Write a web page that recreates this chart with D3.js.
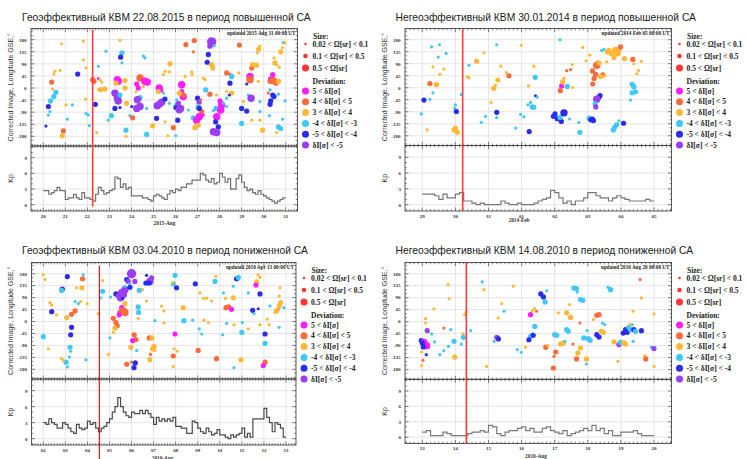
<!DOCTYPE html>
<html><head><meta charset="utf-8">
<script src="https://cdn.jsdelivr.net/npm/d3@7"></script>
<style>body{margin:0;background:#fff;} svg{display:block;}</style>
</head><body>
<svg id="chart" width="748" height="459"></svg>
<script>
// ---- data ---------------------------------------------------------------
const titles = [
  "Геоэффективный КВМ 22.08.2015 в период повышенной СА",
  "Негеоэффективный КВМ 30.01.2014 в период повышенной СА",
  "Геоэффективный КВМ 03.04.2010 в период пониженной СА",
  "Негеоэффективный КВМ 14.08.2010 в период пониженной СА"
];
const updatedLabels = [
  "updated 2015 Aug 31 00:00 UT", "updated 2014 Feb 05 00:00 UT",
  "updated 2010 Apr 13 00:00 UT", "updated 2010 Aug 20 00:00 UT"
];
const monthLabels = ["2015-Aug", "2014-Feb", "2010-Apr", "2010-Aug"];
const startDates = ["2015-08-20", "2014-01-29", "2010-04-02", "2010-08-13"];
const spanDays = [11, 7, 11, 7];
// arrival marker, days after the first tick
const cmeArrival = [2.24, 1.22, 2.54, 1.33];

const lonTicks = [180, 135, 90, 45, 0, -45, -90, -135, -180];
const kpTicks = [0, 3, 6, 9];
const sizeLabels = ["0.02 < Ω[sr] < 0.1", "0.1 < Ω[sr] < 0.5", "0.5 < Ω[sr]"];
const devCodes = ["M", "O", "Y", "L", "B", "P"];
const devLabels = ["5 < δI[σ]", "4 < δI[σ] < 5", "3 < δI[σ] < 4", "-4 < δI[σ] < -3", "-5 < δI[σ] < -4", "δI[σ] < -5"];

// Kp, 3-hour values
const kp1 = [
  2.7,2.7,2.0,2.3,2.7,3.3,2.7,2.7, 1.0,1.3,1.3,2.0,1.3,1.0,2.3,1.3,
  1.3,1.0,0.7,2.0,3.3,2.7,2.0,2.3, 2.7,3.0,5.3,5.0,3.3,4.0,3.0,3.3,
  1.7,1.7,1.7,1.7,1.3,1.3,1.0,0.7, 1.7,2.0,1.7,1.3,1.0,2.0,2.7,2.3,
  3.0,2.7,3.3,3.3,4.0,4.0,4.7,4.7, 4.7,6.0,5.7,4.7,4.3,5.0,4.0,4.3,
  6.0,5.3,4.3,5.0,3.0,3.0,5.0,5.7, 4.3,3.3,2.7,3.0,2.3,2.0,2.7,2.0,
  1.7,1.3,1.0,0.7,0.3,0.7,1.0,1.3
];
const kp2 = [
  2.0,2.0,2.0,1.7,1.0,2.0,1.3,1.3, 2.0,2.3,0.7,0.7,0.3,0.0,0.3,0.0,
  0.0,0.0,0.0,0.7,0.3,0.0,0.0,0.3, 0.0,0.0,0.0,0.3,0.7,1.0,1.3,2.7,
  2.3,1.3,0.3,0.7,0.0,0.7,0.7,1.3, 2.3,2.3,1.7,1.3,1.3,0.7,1.3,1.7,
  1.3,1.0,0.7,0.7,0.7,0.7,1.0,0.7
];
const kp3 = [
  3.0,2.7,3.7,3.0,2.7,2.0,2.0,3.0, 2.7,2.0,1.3,1.0,2.7,2.0,1.7,2.0,
  3.3,2.7,3.0,2.0,1.3,2.0,2.3,3.0, 3.7,5.0,6.0,7.7,6.0,5.0,4.3,4.0,
  5.0,4.7,4.7,5.3,4.7,5.3,4.7,4.0, 2.7,4.0,3.3,3.7,3.3,3.7,3.3,4.0,
  2.3,2.3,2.0,2.0,1.0,1.0,3.3,3.0, 2.0,1.3,1.0,2.0,1.3,0.7,1.0,1.7,
  0.7,0.7,0.3,0.0,0.7,0.3,0.7,1.0, 2.0,0.3,1.0,0.3,3.7,3.7,3.7,3.7,
  5.7,4.0,3.0,1.3,3.0,2.7,2.0,0.3
];
const kp4 = [
  1.0,1.3,0.3,0.3,0.3,1.0,0.7,0.3, 0.3,0.3,0.3,0.7,1.0,1.0,1.3,1.0,
  2.3,2.0,0.7,0.3,1.0,1.3,1.3,1.7, 2.0,1.3,1.7,1.0,1.0,1.7,2.0,1.3,
  1.0,0.7,1.3,0.3,0.7,1.0,1.3,1.7, 1.3,2.3,1.3,1.7,0.7,1.3,0.3,0.3,
  1.0,1.0,1.0,1.3,0.7,0.3,0.3,0.3
];

// events: [days after first tick, longitude, size class (Ω), deviation class]
const ev1 = [
  [0.83,165,1,"Y"],[1.82,175,1,"Y"],[0.53,62,1,"Y"],[0.48,52,1,"Y"],[0.76,66,1,"Y"],
  [0.38,22,2,"O"],[0.42,-4,1,"Y"],[0.57,-16,2,"L"],[0.48,-32,2,"L"],[0.33,-48,2,"L"],
  [0.23,-69,2,"B"],[0.30,-88,1,"L"],[0.23,-101,1,"L"],[0.12,-142,1,"B"],[0.91,-160,2,"O"],
  [0.86,-178,2,"Y"],[1.09,-116,1,"L"],[1.32,-63,1,"L"],[1.03,-63,1,"Y"],[1.56,52,2,"B"],
  [2.09,-140,1,"L"],[1.94,-95,1,"L"],[1.82,105,1,"Y"],[1.94,75,1,"Y"],[1.92,-41,1,"Y"],
  [2.04,-101,1,"L"],[2.30,25,2,"O"],[2.24,31,2,"O"],[2.50,35,1,"M"],[2.57,31,1,"Y"],
  [2.65,22,1,"Y"],[2.50,81,1,"L"],[2.50,-6,1,"Y"],[2.60,-6,2,"Y"],[2.80,-4,2,"Y"],
  [2.36,-61,2,"B"],[2.42,-166,1,"Y"],[3.48,178,1,"Y"],[3.57,131,2,"L"],[3.51,115,2,"B"],
  [3.57,94,1,"L"],[2.84,137,1,"L"],[3.36,31,3,"M"],[3.40,25,3,"M"],[3.30,18,2,"Y"],
  [3.71,28,2,"Y"],[3.71,0,2,"Y"],[3.25,-19,3,"P"],[3.36,-38,3,"P"],[3.40,-48,3,"P"],
  [3.48,-26,2,"L"],[3.25,-76,2,"B"],[3.09,-103,2,"L"],[2.95,-120,1,"L"],[3.78,-57,2,"Y"],
  [3.48,-73,1,"B"],[3.75,-157,2,"L"],[3.93,-103,1,"L"],[4.05,-111,2,"O"],[3.75,-180,1,"Y"],
  [4.54,119,1,"L"],[4.61,112,1,"L"],[4.39,37,3,"O"],[4.61,25,3,"M"],[4.72,22,3,"M"],
  [4.24,15,2,"M"],[4.31,0,2,"M"],[4.54,6,1,"Y"],[4.21,-13,1,"Y"],[4.39,-36,2,"L"],
  [4.27,-44,3,"P"],[4.24,-76,3,"P"],[4.39,-69,3,"P"],[4.01,-69,1,"B"],[4.69,-76,1,"L"],
  [5.14,-113,2,"B"],[4.96,-141,2,"Y"],[4.69,-173,2,"L"],[5.52,-126,1,"Y"],[5.26,0,3,"M"],
  [5.33,-8,2,"M"],[5.22,-13,2,"Y"],[5.45,-19,1,"L"],[5.26,-61,3,"P"],[5.37,-53,3,"P"],
  [5.17,-66,3,"P"],[5.52,-41,2,"B"],[5.72,-57,1,"L"],[5.75,90,2,"Y"],[5.52,62,1,"Y"],
  [5.72,60,1,"Y"],[5.45,50,1,"Y"],[5.66,-178,1,"Y"],[5.90,-148,2,"O"],[6.01,-178,1,"L"],
  [6.28,12,3,"M"],[6.28,-13,2,"M"],[6.35,-32,3,"M"],[6.35,-26,2,"O"],[6.17,-19,2,"Y"],
  [6.05,-44,1,"L"],[6.05,-63,2,"L"],[6.02,-73,2,"B"],[6.23,-76,3,"P"],[6.17,-81,3,"P"],
  [6.13,-57,2,"P"],[6.10,-120,2,"B"],[6.43,43,1,"Y"],[6.73,60,1,"Y"],[6.76,50,1,"Y"],
  [6.58,-82,1,"L"],[6.81,-111,2,"L"],[6.96,-76,1,"Y"],[7.00,-38,2,"B"],[7.07,-53,2,"P"],
  [7.03,-69,2,"L"],[6.47,162,2,"O"],[6.85,177,2,"O"],[6.81,135,1,"O"],[7.26,37,1,"Y"],
  [7.34,31,1,"Y"],[7.37,-7,2,"L"],[7.56,-23,2,"O"],[7.14,-44,1,"O"],[7.19,-88,2,"O"],
  [7.26,-101,1,"M"],[7.08,-76,2,"B"],[6.96,-120,3,"M"],[7.08,-107,3,"M"],[7.03,-138,2,"Y"],
  [6.88,-148,2,"Y"],[7.72,-84,1,"L"],[7.64,172,4,"P"],[7.56,156,2,"P"],[7.75,157,1,"L"],
  [7.49,125,2,"B"],[7.44,96,2,"B"],[7.64,87,2,"Y"],[7.69,75,2,"Y"],[7.87,-26,1,"Y"],
  [7.84,-76,2,"L"],[8.02,-48,2,"M"],[8.09,-63,3,"M"],[8.05,-82,3,"M"],[7.87,-107,3,"M"],
  [7.82,-126,2,"B"],[7.94,-145,2,"B"],[7.72,-163,3,"P"],[7.87,-166,3,"P"],[8.17,-57,1,"L"],
  [8.32,56,2,"O"],[8.47,52,1,"O"],[8.55,43,2,"L"],[8.47,18,2,"B"],[8.32,-13,1,"Y"],
  [8.55,-19,2,"Y"],[8.44,-26,1,"B"],[8.32,-38,1,"L"],[8.32,-69,1,"L"],[8.90,160,2,"O"],
  [8.87,56,1,"Y"],[9.08,-51,1,"Y"],[9.00,-76,2,"B"],[9.23,-86,2,"B"],[9.30,-26,1,"L"],
  [9.43,-38,3,"P"],[9.23,15,1,"B"],[9.38,43,3,"M"],[9.38,31,3,"O"],[9.46,75,2,"O"],
  [9.50,87,2,"Y"],[9.68,85,2,"Y"],[9.76,25,1,"Y"],[9.46,-120,1,"Y"],[9.83,-120,1,"Y"],
  [9.95,-157,2,"Y"],[9.83,-51,1,"L"],[9.77,144,2,"Y"],[9.83,156,1,"Y"],[9.71,131,1,"Y"],
  [9.00,-132,2,"L"],[10.41,50,2,"M"],[10.36,31,3,"M"],[10.44,27,3,"O"],[10.29,25,2,"O"],
  [10.56,18,2,"O"],[10.67,25,2,"Y"],[10.51,94,2,"Y"],[10.59,87,1,"Y"],[10.71,77,1,"Y"],
  [10.47,112,1,"Y"],[10.77,135,2,"Y"],[10.85,150,1,"Y"],[10.89,169,1,"L"],[10.97,169,1,"Y"],
  [10.29,-7,1,"L"],[10.21,-19,1,"O"],[10.41,-26,2,"B"],[10.47,-32,2,"B"],[10.32,-48,2,"B"],
  [10.67,-23,1,"L"],[10.29,-61,2,"B"],[10.26,-103,1,"L"],[9.83,-88,1,"L"],[10.97,-48,1,"L"],
  [10.86,-116,1,"L"],[10.67,-145,2,"L"],[10.77,-151,2,"L"],[10.59,-166,1,"Y"]
];
const ev2 = [
  [0.28,153,1,"L"],[0.52,161,1,"L"],[0.48,115,1,"L"],[0.72,129,1,"L"],[0.32,78,1,"Y"],
  [0.65,70,1,"Y"],[0.53,50,1,"Y"],[0.23,16,2,"O"],[0.43,12,2,"Y"],[0.32,-19,1,"L"],
  [0.05,-46,2,"B"],[0.23,-43,1,"L"],[-0.03,-98,1,"L"],[0.15,-158,1,"Y"],[1.00,-64,1,"L"],
  [0.98,-77,1,"L"],[1.03,-89,2,"B"],[1.00,-151,2,"Y"],[0.96,-158,2,"Y"],[1.06,-167,2,"Y"],
  [1.18,-25,1,"L"],[1.41,84,1,"L"],[1.36,41,1,"Y"],[1.41,37,1,"Y"],[1.64,99,2,"Y"],
  [1.86,131,1,"Y"],[1.91,-107,1,"L"],[1.78,-130,1,"L"],[2.25,161,1,"L"],[2.25,-92,2,"B"],
  [2.25,-112,1,"L"],[2.08,-55,1,"Y"],[2.16,-2,2,"Y"],[2.28,29,2,"Y"],[2.21,10,1,"Y"],
  [2.37,81,1,"Y"],[2.54,57,1,"Y"],[2.62,45,2,"O"],[2.99,159,1,"Y"],[2.82,-151,1,"L"],
  [2.97,-100,1,"L"],[3.07,-109,1,"L"],[3.23,-164,2,"B"],[3.21,7,1,"Y"],[3.41,39,2,"L"],
  [3.37,81,1,"Y"],[3.42,-30,1,"B"],[3.47,-35,1,"L"],[3.27,-55,1,"L"],[3.19,-64,1,"L"],
  [3.32,-72,2,"L"],[3.37,-73,2,"L"],[4.16,180,1,"L"],[3.96,-107,2,"B"],[4.01,-98,2,"B"],
  [4.08,-116,2,"B"],[4.20,-126,2,"B"],[4.16,-111,2,"L"],[4.28,-94,3,"B"],[4.45,-117,1,"L"],
  [4.73,-130,1,"L"],[4.76,-167,2,"L"],[4.21,7,2,"M"],[4.24,22,2,"Y"],[4.28,35,1,"Y"],
  [4.17,-11,2,"O"],[4.38,5,2,"L"],[4.54,1,1,"Y"],[4.36,64,1,"O"],[4.48,68,1,"O"],
  [4.53,87,1,"Y"],[4.85,151,1,"Y"],[4.95,101,1,"Y"],[5.06,122,1,"Y"],[5.27,84,3,"O"],
  [5.31,92,2,"O"],[5.34,93,2,"Y"],[5.14,63,2,"O"],[5.24,50,2,"O"],[5.19,35,2,"O"],
  [5.15,14,2,"O"],[5.45,48,2,"O"],[5.39,42,2,"Y"],[5.52,45,1,"Y"],[5.57,97,1,"Y"],
  [5.42,140,1,"L"],[5.49,144,1,"L"],[5.59,134,2,"Y"],[5.64,140,2,"Y"],[5.71,128,2,"Y"],
  [5.79,113,2,"Y"],[5.84,140,3,"Y"],[5.89,131,3,"Y"],[5.94,144,2,"Y"],[5.99,153,2,"O"],
  [6.11,109,2,"Y"],[6.36,106,2,"O"],[6.39,90,1,"Y"],[6.62,99,1,"Y"],[6.53,65,1,"Y"],
  [6.48,52,1,"Y"],[6.34,13,2,"L"],[6.39,4,2,"L"],[6.44,-15,2,"L"],[6.34,-19,2,"L"],
  [6.29,-46,1,"L"],[5.37,-29,2,"B"],[5.34,-35,2,"B"],[5.27,-43,3,"P"],[5.22,-60,2,"L"],
  [5.24,-72,2,"P"],[5.04,-114,2,"L"],[5.09,-120,2,"B"],[5.14,-117,2,"B"],[5.17,-123,2,"B"],
  [5.77,-158,2,"L"],[5.81,-148,2,"L"],[5.87,-139,2,"L"],[5.94,-124,1,"L"],[6.08,-133,2,"B"]
];
const ev3 = [
  [0.00,176,1,"Y"],[0.08,158,1,"Y"],[1.09,169,2,"B"],[1.78,161,2,"O"],[1.81,176,1,"L"],
  [0.86,122,2,"B"],[0.83,117,2,"L"],[1.51,127,1,"Y"],[1.75,127,2,"Y"],[0.30,71,1,"Y"],
  [0.38,62,1,"Y"],[0.38,37,2,"B"],[0.60,25,1,"Y"],[1.06,15,2,"Y"],[1.28,27,2,"O"],
  [1.44,40,2,"O"],[1.44,75,1,"L"],[1.59,67,1,"L"],[1.69,75,1,"Y"],[1.99,67,1,"Y"],
  [1.28,-22,2,"B"],[1.24,-50,2,"B"],[0.00,-57,2,"L"],[0.23,-103,1,"Y"],[1.21,-97,2,"L"],
  [1.24,-112,1,"L"],[1.18,-134,1,"L"],[1.03,-153,2,"L"],[1.09,-171,1,"L"],[0.91,-146,1,"Y"],
  [0.83,-140,1,"Y"],[1.93,-144,1,"L"],[2.69,154,1,"Y"],[2.49,30,1,"Y"],[2.69,114,2,"L"],
  [2.60,89,1,"L"],[3.05,92,1,"L"],[3.02,-62,1,"L"],[2.95,-124,1,"Y"],[3.29,104,2,"B"],
  [3.40,96,2,"P"],[3.55,108,3,"P"],[3.63,102,3,"P"],[3.70,120,3,"P"],[3.50,89,3,"P"],
  [3.78,158,2,"B"],[3.85,151,2,"P"],[4.00,180,4,"P"],[4.15,151,2,"P"],[4.68,174,1,"B"],
  [4.83,151,3,"P"],[4.91,164,2,"P"],[4.65,145,2,"B"],[4.80,145,2,"B"],[3.90,142,1,"L"],
  [3.70,133,1,"L"],[3.93,129,2,"B"],[3.60,87,1,"B"],[3.70,67,2,"Y"],[3.55,52,2,"M"],
  [3.63,40,3,"O"],[3.70,34,3,"O"],[3.47,34,2,"O"],[3.44,25,2,"M"],[3.17,12,2,"O"],
  [3.29,-4,2,"O"],[3.35,-16,2,"O"],[3.25,-25,2,"Y"],[3.17,-41,1,"Y"],[4.30,55,2,"L"],
  [4.32,34,2,"L"],[4.30,12,1,"Y"],[4.35,117,2,"L"],[4.50,120,1,"Y"],[4.12,-50,2,"O"],
  [4.20,-68,2,"O"],[4.05,-72,2,"M"],[3.97,-97,2,"Y"],[4.23,-109,1,"L"],[4.80,-62,2,"O"],
  [4.92,-62,2,"Y"],[5.02,-94,2,"Y"],[4.95,-103,2,"Y"],[5.06,-109,1,"Y"],[4.83,-144,2,"Y"],
  [4.86,-124,1,"O"],[3.78,-161,2,"O"],[4.00,-153,1,"O"],[4.11,-174,2,"B"],[4.17,-156,2,"B"],
  [4.68,77,1,"Y"],[5.36,58,1,"Y"],[5.47,40,1,"Y"],[5.06,3,1,"L"],[5.47,-6,1,"Y"],
  [5.97,174,2,"L"],[5.89,142,2,"L"],[6.04,127,2,"B"],[5.86,145,1,"Y"],[6.34,52,2,"Y"],
  [6.37,3,2,"L"],[6.77,5,1,"L"],[6.89,142,2,"B"],[5.97,-47,2,"M"],[5.89,-130,2,"O"],
  [5.92,-103,1,"Y"],[6.07,-112,1,"Y"],[5.89,-169,1,"Y"],[7.02,-109,2,"O"],[7.18,-47,1,"L"],
  [7.28,5,1,"Y"],[7.48,-4,1,"Y"],[7.10,108,1,"Y"],[7.25,87,1,"Y"],[7.40,87,1,"Y"],
  [7.63,77,1,"Y"],[7.07,-28,1,"L"],[7.78,151,2,"L"],[7.82,170,1,"Y"],[7.85,-140,2,"O"],
  [8.16,108,1,"L"],[8.31,-7,1,"L"],[8.13,-50,1,"L"],[8.26,87,1,"Y"],[8.28,52,2,"O"],
  [8.40,55,2,"O"],[8.53,46,2,"M"],[8.61,89,2,"Y"],[8.61,133,1,"L"],[8.64,-12,1,"Y"],
  [8.76,161,2,"B"],[8.84,166,2,"L"],[8.64,-174,1,"L"],[8.96,-144,2,"Y"],[9.00,-41,2,"L"],
  [9.02,-4,1,"L"],[9.29,108,1,"L"],[9.29,-28,1,"Y"],[9.67,149,2,"Y"],[9.64,137,2,"M"],
  [9.74,176,1,"Y"],[9.82,166,1,"Y"],[9.82,104,2,"B"],[9.49,42,2,"B"],[9.55,30,1,"L"],
  [9.74,48,1,"B"],[9.82,-12,1,"Y"],[10.05,-47,2,"B"],[10.05,-82,2,"L"],[10.15,9,1,"Y"],
  [10.24,-12,1,"Y"],[10.27,58,1,"L"],[10.05,-153,2,"O"],[9.97,-166,2,"M"],[10.65,46,1,"O"],
  [10.57,40,2,"Y"],[10.69,58,2,"Y"],[10.76,71,2,"Y"],[10.50,34,1,"Y"],[10.69,96,1,"Y"],
  [10.73,127,1,"Y"],[10.91,52,1,"L"],[10.69,-22,1,"L"]
];
const ev4 = [
  [-0.03,-71,2,"B"],[0.05,-78,3,"M"],[0.13,-90,3,"M"],[0.03,-95,2,"B"],[0.00,-80,2,"B"],
  [0.15,-34,2,"P"],[0.28,-46,1,"L"],[0.10,11,1,"Y"],[0.10,-5,1,"Y"],[-0.02,-114,1,"Y"],
  [0.12,-124,1,"B"],[0.02,-145,1,"O"],[-0.02,-165,1,"Y"],[0.37,-76,1,"L"],[0.35,48,1,"Y"],
  [0.65,-24,1,"O"],[0.78,139,1,"Y"],[0.81,86,1,"Y"],[0.86,-30,1,"L"],[0.96,-74,2,"L"],
  [0.79,-93,1,"L"],[0.65,-109,1,"L"],[0.53,-124,1,"L"],[0.98,-133,2,"Y"],[1.23,-46,1,"Y"],
  [1.24,-59,2,"L"],[1.18,-84,1,"L"],[1.28,26,1,"Y"],[1.32,36,1,"Y"],[1.46,-34,1,"L"],
  [1.81,149,1,"L"],[1.86,120,1,"Y"],[1.94,-168,1,"Y"],[2.17,-74,1,"L"],[2.25,-59,2,"P"],
  [2.30,-65,2,"B"],[2.29,14,1,"Y"],[2.40,68,1,"Y"],[2.47,39,1,"L"],[2.75,133,1,"Y"],
  [2.87,-105,1,"L"],[2.99,-115,1,"L"],[3.12,-96,1,"Y"],[3.32,-46,1,"L"],[3.27,-55,2,"L"],
  [3.35,-51,2,"B"],[3.22,-68,2,"B"],[3.40,-18,2,"L"],[3.32,41,1,"Y"],[3.39,49,1,"Y"],
  [3.45,39,1,"O"],[3.27,26,2,"M"],[3.58,104,2,"B"],[3.66,93,2,"B"],[3.71,74,2,"L"],
  [3.76,116,1,"L"],[3.73,-96,2,"O"],[3.78,-89,1,"Y"],[4.03,-114,2,"O"],[3.98,-130,1,"O"],
  [3.96,-174,2,"O"],[4.11,33,1,"Y"],[4.00,-49,2,"L"],[4.06,-51,2,"L"],[4.18,-84,2,"Y"],
  [4.26,-80,2,"Y"],[4.31,-74,1,"L"],[4.36,33,2,"Y"],[4.48,16,2,"Y"],[4.36,-30,2,"L"],
  [4.41,-36,2,"L"],[4.45,64,1,"Y"],[4.58,126,2,"L"],[4.66,124,2,"L"],[4.68,111,1,"L"],
  [4.78,83,2,"L"],[4.85,80,2,"L"],[4.76,-5,1,"O"],[4.55,-84,1,"O"],[4.66,-140,2,"O"],
  [4.70,-118,2,"Y"],[4.78,-99,2,"Y"],[4.96,-140,2,"Y"],[4.96,-159,1,"L"],[4.88,-61,2,"L"],
  [5.01,-64,2,"L"],[5.07,-70,2,"L"],[4.98,-34,1,"L"],[5.17,8,1,"Y"],[5.27,24,2,"O"],
  [5.34,26,2,"O"],[5.27,-49,2,"B"],[5.34,-58,2,"B"],[5.41,-36,2,"Y"],[5.47,-40,2,"Y"],
  [5.44,-5,1,"L"],[5.51,-11,1,"L"],[5.61,129,1,"L"],[5.69,120,2,"L"],[5.79,-76,2,"Y"],
  [5.91,-149,1,"Y"],[5.94,-86,2,"P"],[5.99,-78,2,"L"],[6.09,-80,2,"Y"],[6.14,-84,2,"Y"],
  [6.07,-43,2,"B"],[6.14,-30,2,"B"],[6.19,-40,2,"B"],[6.24,-21,2,"L"],[6.29,-30,2,"L"],
  [6.34,-11,1,"L"],[6.27,-11,1,"Y"],[6.39,-30,2,"B"],[6.44,-36,2,"L"],[6.37,-74,1,"L"],
  [6.37,39,1,"Y"],[6.62,-34,2,"B"],[6.58,158,1,"O"],[6.62,89,1,"Y"],[6.72,-128,1,"Y"],
  [6.75,-140,2,"O"],[6.92,-96,1,"L"],[7.00,-101,2,"P"],[7.00,29,1,"Y"],[7.00,-168,1,"Y"]
];

// ---- styling / layout -------------------------------------------------
const DAY = 864e5;
const devColor = {M:"#ff1cff", O:"#fa6a3c", Y:"#fdb935", L:"#3ec8f8", B:"#2b2bf0", P:"#9b3df2"};
const sizeR = [0, 1.6, 2.6, 3.7, 4.7];
const legendSizeR = [1.3, 2.3, 3.5];
const serif = "'Liberation Serif','Times New Roman',serif";
const sans = "'Liberation Sans',Arial,sans-serif";

const panels = [
  {kp: kp1, ev: ev1, i: 0, title: [22, 20.5],
   f: {x0: 31, x1: 297.5, y0: 28.5, ym: 146, y1: 211, xs: 43.3, xe: 285.7},
   red: {c: "#ff3b3b", w: 1.6, top: 1.5, bot: 206.5}, name: [164.5, 225], kpc: "#6f6f6f"},
  {kp: kp2, ev: ev2, i: 1, title: [395.5, 20.5],
   f: {x0: 405, x1: 671.5, y0: 28.5, ym: 145.5, y1: 211, xs: 422.3, xe: 654},
   red: {c: "#ff3b3b", w: 1.6, top: 1, bot: 211}, name: [519, 222], kpc: "#777777"},
  {kp: kp3, ev: ev3, i: 2, title: [22, 253.5],
   f: {x0: 31.5, x1: 296, y0: 262.5, ym: 379, y1: 445, xs: 43.3, xe: 286},
   red: {c: "#e00000", w: 1.1, top: 3, bot: 459}, name: [162.5, 459.5], kpc: "#4a4a4a"},
  {kp: kp4, ev: ev4, i: 3, title: [395.5, 253.5],
   f: {x0: 405, x1: 671.5, y0: 262.5, ym: 379.3, y1: 443.5, xs: 422.3, xe: 654},
   red: {c: "#ff3b3b", w: 1.6, top: 0, bot: 443.5}, name: [536, 457.5], kpc: "#7a7a7a"}
];

const svg = d3.select("#chart");

panels.forEach(p => {
  const f = p.f;
  const start = new Date(startDates[p.i] + "T00:00:00Z");
  const end = new Date(+start + spanDays[p.i] * DAY);
  const x = d3.scaleUtc().domain([start, end]).range([f.xs, f.xe]);
  const y = d3.scaleLinear().domain([-180, 180]).range([f.ym - 9.7, f.y0 + 11.2]);
  const k = d3.scaleLinear().domain([0, 9]).range([f.y1 - 6.3, f.ym + 11.7]);
  const g = svg.append("g");
  const tAt = d => new Date(+start + d * DAY);

  // title
  g.append("text").attr("x", p.title[0]).attr("y", p.title[1])
    .attr("font-family", sans).attr("font-size", 10.3).attr("fill", "#1a1a1a")
    .text(titles[p.i]);

  // grid
  const grid = g.append("g").attr("stroke", "#dedede").attr("stroke-width", 0.8);
  const days = d3.utcDay.range(start, new Date(+end + 1));
  days.forEach(d => {
    grid.append("line").attr("x1", x(d)).attr("x2", x(d)).attr("y1", f.y0).attr("y2", f.y1);
  });
  lonTicks.forEach(v => grid.append("line").attr("x1", f.x0).attr("x2", f.x1).attr("y1", y(v)).attr("y2", y(v)));
  kpTicks.forEach(v => grid.append("line").attr("x1", f.x0).attr("x2", f.x1).attr("y1", k(v)).attr("y2", k(v)));

  // events
  g.append("g").selectAll("circle").data(p.ev).join("circle")
    .attr("cx", d => x(tAt(d[0])))
    .attr("cy", d => y(d[1]))
    .attr("r", d => sizeR[d[2]])
    .attr("fill", d => devColor[d[3]]);

  // Kp step curve
  const kpPts = p.kp.map((v, i) => [new Date(+start + i * DAY / 8), v]);
  kpPts.push([end, p.kp[p.kp.length - 1]]);
  g.append("path").datum(kpPts)
    .attr("d", d3.line().x(d => x(d[0])).y(d => k(d[1])).curve(d3.curveStepAfter))
    .attr("fill", "none").attr("stroke", p.kpc).attr("stroke-width", 1.2);

  // frames
  const fr = g.append("g").attr("fill", "none").attr("stroke", "#474747").attr("stroke-width", 0.9);
  fr.append("rect").attr("x", f.x0).attr("y", f.y0).attr("width", f.x1 - f.x0).attr("height", f.ym - f.y0);
  fr.append("rect").attr("x", f.x0).attr("y", f.ym).attr("width", f.x1 - f.x0).attr("height", f.y1 - f.ym);

  // tick marks along frames
  const tk = g.append("g").attr("stroke", "#474747").attr("stroke-width", 0.7);
  const hours = d3.utcHour.every(3).range(x.invert(f.x0), x.invert(f.x1));
  hours.forEach(h => {
    const major = h.getUTCHours() === 0;
    const L = major ? 3.5 : 1.8, xx = x(h);
    [[f.y0, 1], [f.ym, -1], [f.ym, 1], [f.y1, -1]].forEach(([yy, s]) =>
      tk.append("line").attr("x1", xx).attr("x2", xx).attr("y1", yy).attr("y2", yy + s * L));
  });
  d3.range(-210, 226, 15).forEach(v => {
    const yy = y(v);
    if (yy < f.y0 + 0.5 || yy > f.ym - 0.5) return;
    const L = v % 45 === 0 ? 3.5 : 1.8;
    tk.append("line").attr("x1", f.x0).attr("x2", f.x0 + L).attr("y1", yy).attr("y2", yy);
    tk.append("line").attr("x1", f.x1).attr("x2", f.x1 - L).attr("y1", yy).attr("y2", yy);
  });
  d3.range(-1, 12).forEach(v => {
    const yy = k(v);
    if (yy < f.ym + 0.5 || yy > f.y1 - 0.5) return;
    const L = v % 3 === 0 ? 3.5 : 1.8;
    tk.append("line").attr("x1", f.x0).attr("x2", f.x0 + L).attr("y1", yy).attr("y2", yy);
    tk.append("line").attr("x1", f.x1).attr("x2", f.x1 - L).attr("y1", yy).attr("y2", yy);
  });

  // arrival marker
  const xr = x(tAt(cmeArrival[p.i]));
  g.append("line").attr("x1", xr).attr("x2", xr).attr("y1", f.y0 + p.red.top).attr("y2", p.red.bot)
    .attr("stroke", p.red.c).attr("stroke-width", p.red.w);

  // axis labels
  const lab = g.append("g").attr("font-family", serif).attr("font-weight", "bold").attr("fill", "#333");
  lonTicks.forEach(v => lab.append("text").attr("x", f.x0 - 4.5).attr("y", y(v) + 1.8)
    .attr("text-anchor", "end").attr("font-size", 5).text(v));
  kpTicks.forEach(v => lab.append("text").attr("x", f.x0 - 4).attr("y", k(v) + 1.8)
    .attr("text-anchor", "end").attr("font-size", 5).text(v));
  const fmt = d3.utcFormat("%d");
  days.forEach(d => lab.append("text").attr("x", x(d)).attr("y", f.y1 + 6.5)
    .attr("text-anchor", "middle").attr("font-size", 5).text(fmt(d)));
  lab.append("text").attr("x", p.name[0]).attr("y", p.name[1])
    .attr("text-anchor", "middle").attr("font-size", 5.3).text(monthLabels[p.i]);
  lab.append("text").attr("x", f.x1 - 2).attr("y", f.y0 + 6.5)
    .attr("text-anchor", "end").attr("font-size", 5.2).attr("fill", "#222").text(updatedLabels[p.i]);

  // rotated pane labels
  const ly = (f.y0 + f.ym) / 2;
  g.append("text").attr("transform", `translate(${f.x0 - 18.5},${ly}) rotate(-90)`)
    .attr("text-anchor", "middle").attr("font-family", sans).attr("font-size", 7).attr("fill", "#333")
    .text("Corrected Image, Longitude GSE,°");
  g.append("text").attr("transform", `translate(${f.x0 - 18.5},${(f.ym + f.y1) / 2}) rotate(-90)`)
    .attr("text-anchor", "middle").attr("font-family", sans).attr("font-size", 7).attr("fill", "#333")
    .text("Kp");

  // legend
  const lg = g.append("g").attr("font-family", serif).attr("font-weight", "bold")
    .attr("font-size", 7.5).attr("fill", "#222");
  const lx = f.x1 + 8, tx = f.x1 + 15;
  lg.append("text").attr("x", tx + 0.5).attr("y", f.y0 + 10.5).text("Size:");
  sizeLabels.forEach((s, i) => {
    const cy = f.y0 + 15.5 + i * 12;
    lg.append("circle").attr("cx", lx).attr("cy", cy).attr("r", legendSizeR[i]).attr("fill", "#ff3434");
    lg.append("text").attr("x", tx).attr("y", cy + 2.6).text(s);
  });
  lg.append("text").attr("x", tx).attr("y", f.y0 + 55).text("Deviation:");
  devLabels.forEach((s, i) => {
    const cy = f.y0 + 62.5 + i * 10.8;
    lg.append("circle").attr("cx", lx).attr("cy", cy).attr("r", 3.5).attr("fill", devColor[devCodes[i]]);
    lg.append("text").attr("x", tx).attr("y", cy + 2.6).text(s);
  });
});
</script>
</body></html>
